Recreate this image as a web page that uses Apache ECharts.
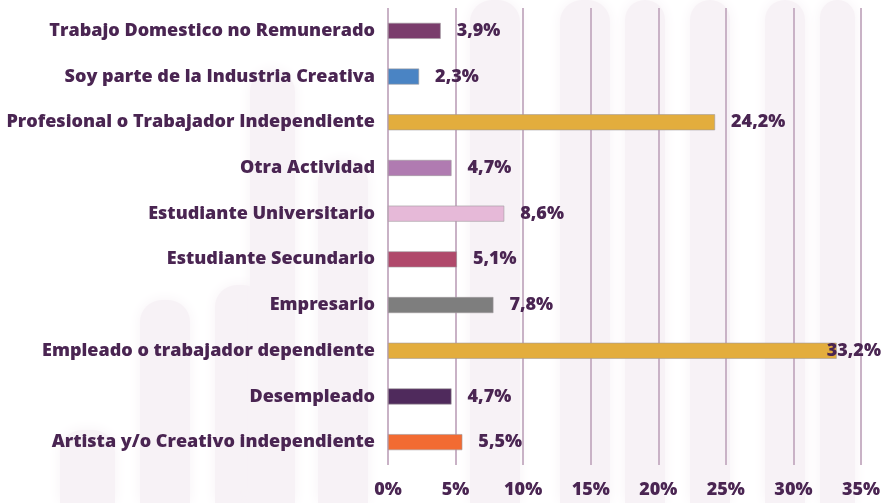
<!DOCTYPE html>
<html>
<head>
<meta charset="utf-8">
<style>
  html, body { margin: 0; padding: 0; background: #ffffff; }
  #chart { width: 888px; height: 503px; }
</style>
</head>
<body>
<div id="chart"></div>
<script src="https://cdn.jsdelivr.net/npm/echarts@6/dist/echarts.min.js"></script>
<script>
// categories, top to bottom as in the picture
var categories = [
    'Trabajo Domestico no Remunerado',
    'Soy parte de la Industria Creativa',
    'Profesional o Trabajador Independiente',
    'Otra Actividad',
    'Estudiante Universitario',
    'Estudiante Secundario',
    'Empresario',
    'Empleado o trabajador dependiente',
    'Desempleado',
    'Artista y/o Creativo independiente'
];
var values = [3.9, 2.3, 24.2, 4.7, 8.6, 5.1, 7.8, 33.2, 4.7, 5.5];
var barColors = ['#7a3d6c', '#4a84c4', '#e3ad3d', '#b07bb1', '#e6b9d8', '#b0496b', '#7e7e7e', '#e3ad3d', '#4f2a5c', '#f26b32'];
var ticks = [0, 5, 10, 15, 20, 25, 30, 35];

var textColor = '#4a2552';
var font = 'Open Sans';

var myChart = echarts.init(document.getElementById('chart'));

// pale blurred columns in the backdrop
var bgCols = [
    {x: 60, y: 430, w: 55}, {x: 140, y: 300, w: 50}, {x: 215, y: 285, w: 50},
    {x: 250, y: 70, w: 45}, {x: 318, y: 160, w: 50}, {x: 470, y: 0, w: 50},
    {x: 560, y: 0, w: 50}, {x: 625, y: 0, w: 40}, {x: 690, y: 0, w: 40},
    {x: 765, y: 0, w: 40}, {x: 820, y: 0, w: 35}
];
var graphics = bgCols.map(function (c) {
    return {
        type: 'rect', z: -10, silent: true,
        shape: {x: c.x, y: c.y, width: c.w, height: 503 - c.y, r: [22, 22, 0, 0]},
        style: {fill: '#f7f2f6', shadowBlur: 14, shadowColor: '#f7f2f6'}
    };
});

var option = {
    backgroundColor: '#ffffff',
    animation: false,
    graphic: graphics,
    grid: {left: 388, right: 27, top: 8, bottom: 38},
    xAxis: {
        type: 'value',
        min: 0, max: 35, interval: 5,
        axisLine: {show: false},
        axisTick: {show: false},
        splitLine: {show: true, lineStyle: {color: '#c9b2c6', width: 2}},
        axisLabel: {
            color: textColor, fontFamily: font, fontWeight: 800, fontSize: 18,
            margin: 16,
            formatter: function (v) { return v + '%'; }
        }
    },
    yAxis: {
        type: 'category',
        data: categories,
        inverse: true,
        axisLine: {show: false},
        axisTick: {show: false},
        axisLabel: {
            color: textColor, fontFamily: font, fontWeight: 800, fontSize: 18,
            margin: 13
        }
    },
    series: [{
        type: 'bar',
        barWidth: 16,
        data: values.map(function (v, i) {
            var item = {value: v, itemStyle: {color: barColors[i]}};
            if (v > 30) item.label = {distance: -10};
            return item;
        }),
        itemStyle: {borderColor: '#a09a9e', borderWidth: 0.6},
        label: {
            show: true, position: 'right', distance: 16,
            color: textColor, fontFamily: font, fontWeight: 800, fontSize: 18,
            formatter: function (p) { return String(p.value.toFixed(1)).replace('.', ',') + '%'; }
        }
    }]
};
myChart.setOption(option);
</script>
</body>
</html>
